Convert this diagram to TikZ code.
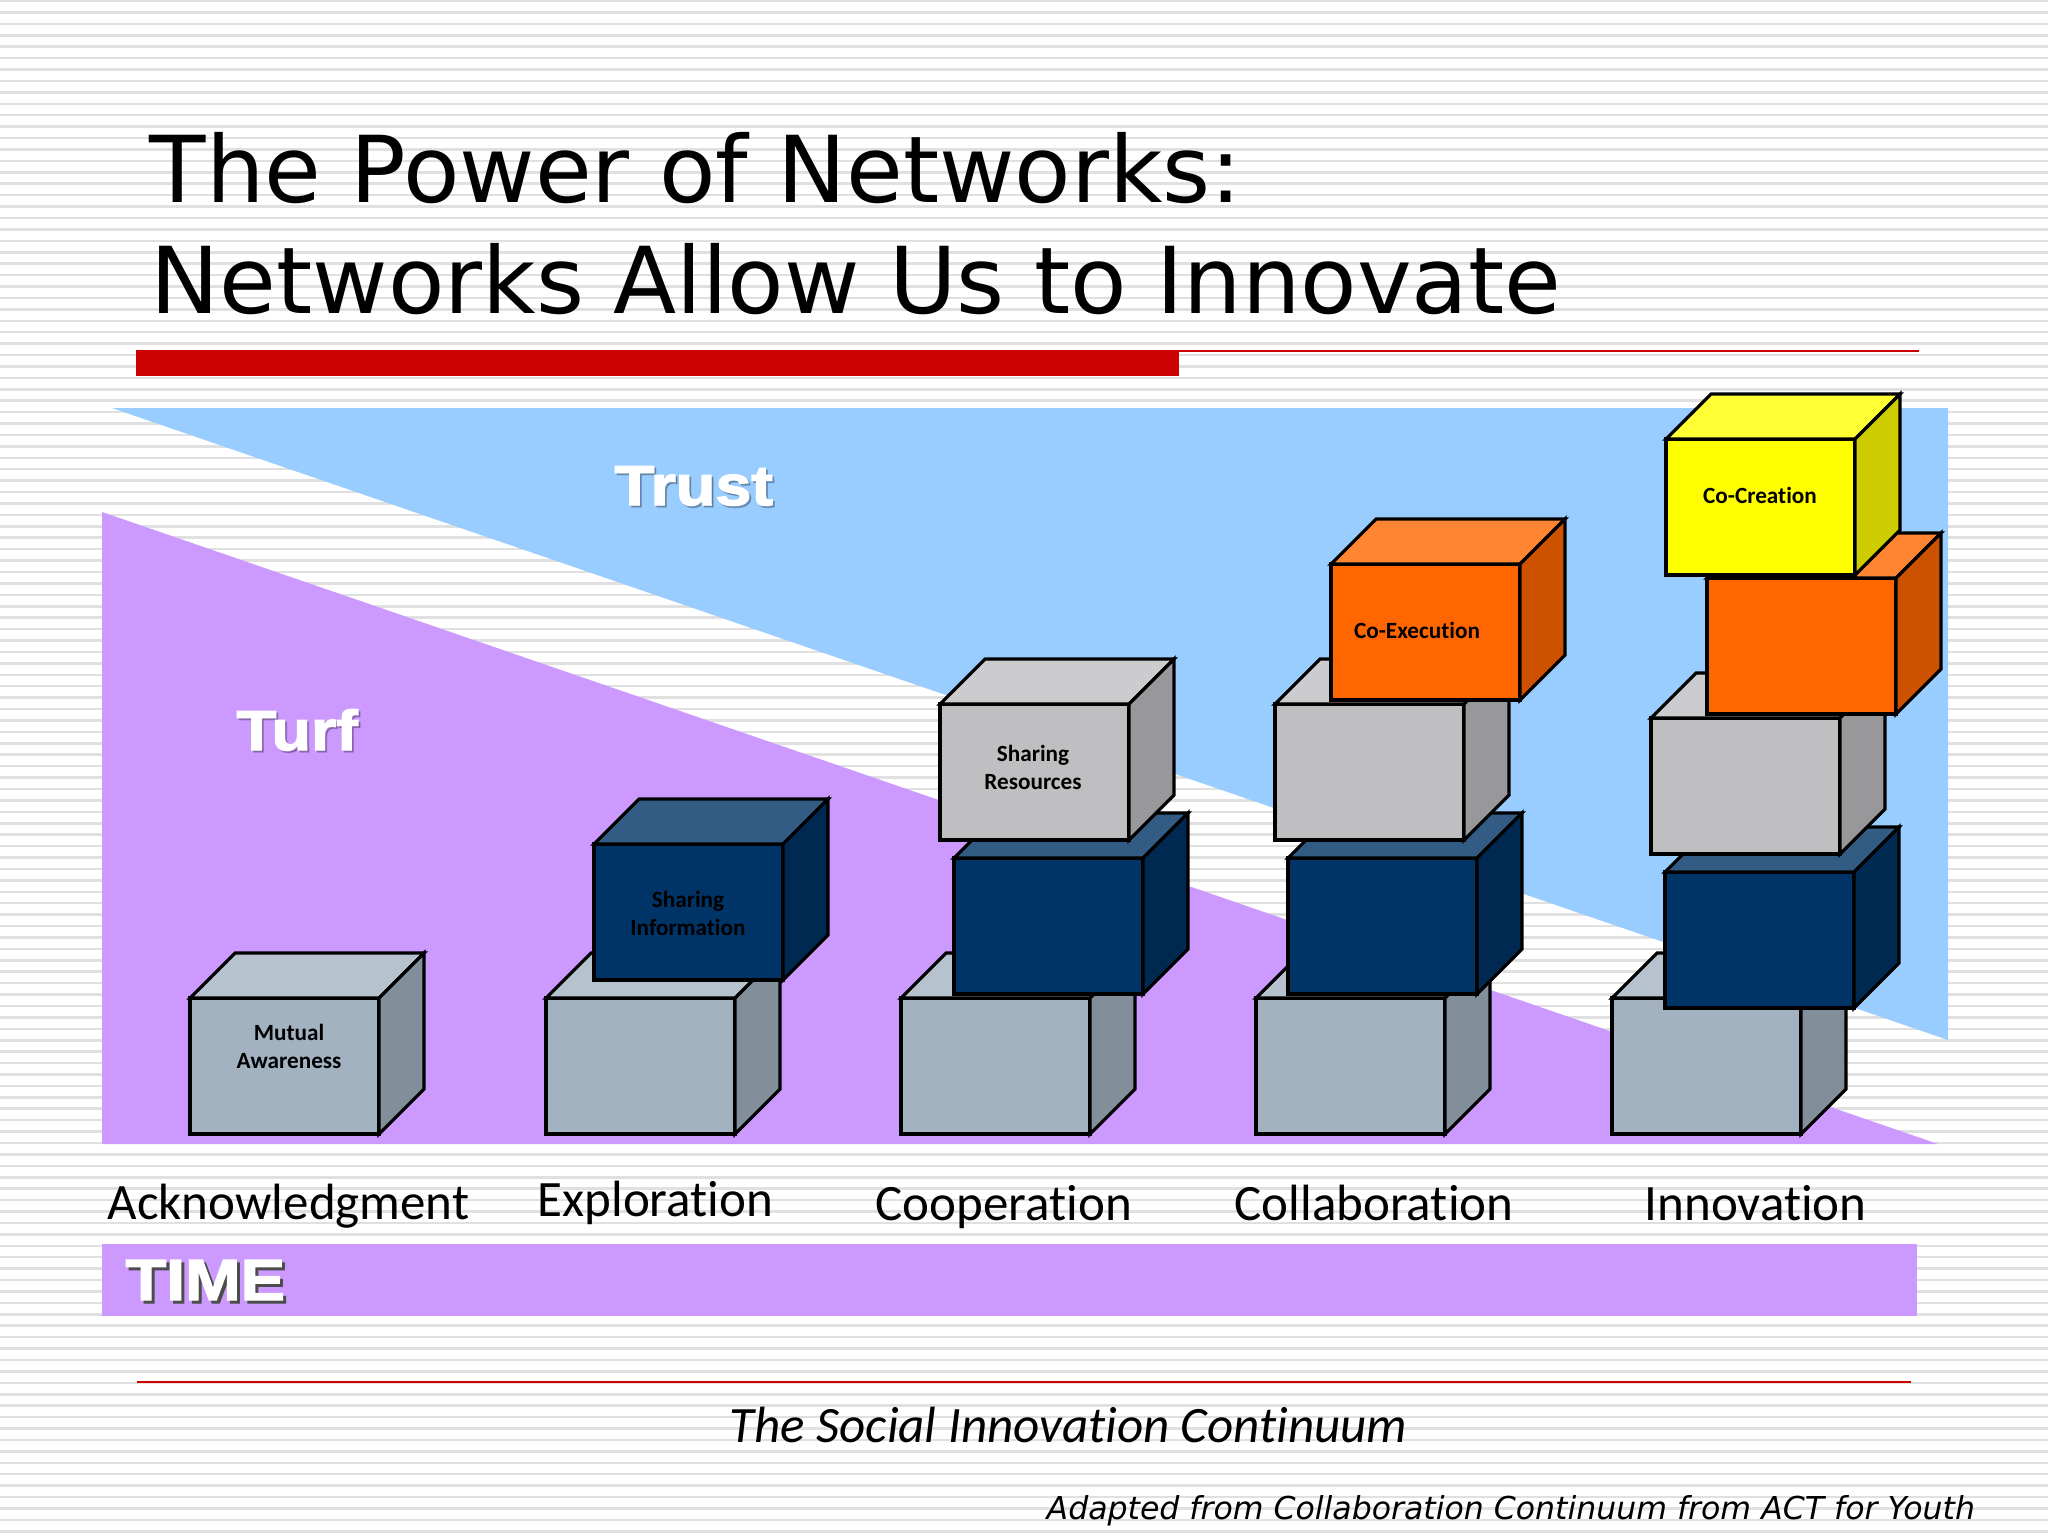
\documentclass[tikz,border=0pt]{standalone}
\usepackage{fontspec}
\setmainfont{DejaVu Sans}
\newfontfamily\carlitofont[Ligatures=CommonOff]{Carlito}
\newfontfamily\heavyfont[BoldFeatures={FakeBold=2.5,FakeStretch=1.15}]{Liberation Sans}
\definecolor{lilac}{HTML}{CC99FF}
\definecolor{skyblue}{HTML}{99CCFF}
\definecolor{slidered}{HTML}{CC0000}
\definecolor{steelF}{HTML}{A2B2C0}
\definecolor{steelT}{HTML}{B6C2CE}
\definecolor{steelS}{HTML}{828E99}
\definecolor{navyF}{HTML}{003366}
\definecolor{navyT}{HTML}{335C85}
\definecolor{navyS}{HTML}{002952}
\definecolor{greyF}{HTML}{BFBEC0}
\definecolor{greyT}{HTML}{CCCBCD}
\definecolor{greyS}{HTML}{98989A}
\definecolor{orangeF}{HTML}{FF6600}
\definecolor{orangeT}{HTML}{FF8533}
\definecolor{orangeS}{HTML}{CC5200}
\definecolor{yellowF}{HTML}{FFFF00}
\definecolor{yellowT}{HTML}{FFFF33}
\definecolor{yellowS}{HTML}{CCCC00}
\tikzset{
  stripe/.style={draw=black!12,line width=0.72pt},
  edge/.style={draw=black,line width=0.9pt,line join=miter},
  steelfront/.style={edge,fill=steelF},
  steeltop/.style={edge,fill=steelT},
  steelside/.style={edge,fill=steelS},
  navyfront/.style={edge,fill=navyF},
  navytop/.style={edge,fill=navyT},
  navyside/.style={edge,fill=navyS},
  greyfront/.style={edge,fill=greyF},
  greytop/.style={edge,fill=greyT},
  greyside/.style={edge,fill=greyS},
  orangefront/.style={edge,fill=orangeF},
  orangetop/.style={edge,fill=orangeT},
  orangeside/.style={edge,fill=orangeS},
  yellowfront/.style={edge,fill=yellowF},
  yellowtop/.style={edge,fill=yellowT},
  yellowside/.style={edge,fill=yellowS},
  titletext/.style={text=black,anchor=base west,inner sep=0pt,font=\fontsize{26.25}{30}\selectfont},
  stagetext/.style={text=black,anchor=base west,inner sep=0pt,font=\carlitofont\fontsize{14.5}{16}\selectfont},
  boxtext/.style={text=black,align=center,inner sep=0pt,font=\carlitofont\bfseries\fontsize{6.6}{8}\selectfont},
  bigtext/.style={text=white,anchor=base west,inner sep=0pt,font=\heavyfont\bfseries\fontsize{16}{20}\selectfont},
  timetext/.style={bigtext,font=\heavyfont\bfseries\fontsize{16.5}{20}\selectfont},
  softshadow/.style={bigtext,text=black,text opacity=0.22},
  darkshadow/.style={timetext,text=black!70}
}
\begin{document}
\begin{tikzpicture}[x=0.01cm,y=-0.01cm]
\useasboundingbox (0,0) rectangle (2048,1536);
\fill[white] (0,0) rectangle (2048,1536);

% background lines:
\foreach \ypos in {0,...,134} {
  \draw[stripe] (0,{1+11.42*\ypos}) -- (2048,{1+11.42*\ypos});
}

% wedges and bars:
\fill[skyblue] (112,408) -- (1948,408) -- (1948,1040) -- cycle;
\fill[lilac] (102,512) -- (102,1144) -- (1938,1144) -- cycle;
\fill[lilac] (102,1244) rectangle (1917,1316);
\fill[slidered] (136,350) rectangle (1179,376);
\draw[slidered,line width=0.6pt] (1179,351) -- (1919,351);
\draw[slidered,line width=0.6pt] (137,1382) -- (1911,1382);

% first column:
\path[steelfront] (190,998) rectangle (379,1134);
\path[steeltop] (190,998) -- (235,953) -- (424,953) -- (379,998) -- cycle;
\path[steelside] (379,998) -- (424,953) -- (424,1089) -- (379,1134) -- cycle;

% second column:
\path[steelfront] (546,998) rectangle (735,1134);
\path[steeltop] (546,998) -- (591,953) -- (780,953) -- (735,998) -- cycle;
\path[steelside] (735,998) -- (780,953) -- (780,1089) -- (735,1134) -- cycle;
\path[navyfront] (594,844) rectangle (783,980);
\path[navytop] (594,844) -- (639,799) -- (828,799) -- (783,844) -- cycle;
\path[navyside] (783,844) -- (828,799) -- (828,935) -- (783,980) -- cycle;

% third column:
\path[steelfront] (901,998) rectangle (1090,1134);
\path[steeltop] (901,998) -- (946,953) -- (1135,953) -- (1090,998) -- cycle;
\path[steelside] (1090,998) -- (1135,953) -- (1135,1089) -- (1090,1134) -- cycle;
\path[navyfront] (954,858) rectangle (1143,994);
\path[navytop] (954,858) -- (999,813) -- (1188,813) -- (1143,858) -- cycle;
\path[navyside] (1143,858) -- (1188,813) -- (1188,949) -- (1143,994) -- cycle;
\path[greyfront] (940,704) rectangle (1129,840);
\path[greytop] (940,704) -- (985,659) -- (1174,659) -- (1129,704) -- cycle;
\path[greyside] (1129,704) -- (1174,659) -- (1174,795) -- (1129,840) -- cycle;

% fourth column:
\path[steelfront] (1256,998) rectangle (1445,1134);
\path[steeltop] (1256,998) -- (1301,953) -- (1490,953) -- (1445,998) -- cycle;
\path[steelside] (1445,998) -- (1490,953) -- (1490,1089) -- (1445,1134) -- cycle;
\path[navyfront] (1288,858) rectangle (1477,994);
\path[navytop] (1288,858) -- (1333,813) -- (1522,813) -- (1477,858) -- cycle;
\path[navyside] (1477,858) -- (1522,813) -- (1522,949) -- (1477,994) -- cycle;
\path[greyfront] (1275,704) rectangle (1464,840);
\path[greytop] (1275,704) -- (1320,659) -- (1509,659) -- (1464,704) -- cycle;
\path[greyside] (1464,704) -- (1509,659) -- (1509,795) -- (1464,840) -- cycle;
\path[orangefront] (1331,564) rectangle (1520,700);
\path[orangetop] (1331,564) -- (1376,519) -- (1565,519) -- (1520,564) -- cycle;
\path[orangeside] (1520,564) -- (1565,519) -- (1565,655) -- (1520,700) -- cycle;

% fifth column:
\path[steelfront] (1612,998) rectangle (1801,1134);
\path[steeltop] (1612,998) -- (1657,953) -- (1846,953) -- (1801,998) -- cycle;
\path[steelside] (1801,998) -- (1846,953) -- (1846,1089) -- (1801,1134) -- cycle;
\path[navyfront] (1665,872) rectangle (1854,1008);
\path[navytop] (1665,872) -- (1710,827) -- (1899,827) -- (1854,872) -- cycle;
\path[navyside] (1854,872) -- (1899,827) -- (1899,963) -- (1854,1008) -- cycle;
\path[greyfront] (1651,718) rectangle (1840,854);
\path[greytop] (1651,718) -- (1696,673) -- (1885,673) -- (1840,718) -- cycle;
\path[greyside] (1840,718) -- (1885,673) -- (1885,809) -- (1840,854) -- cycle;
\path[orangefront] (1707,578) rectangle (1896,714);
\path[orangetop] (1707,578) -- (1752,533) -- (1941,533) -- (1896,578) -- cycle;
\path[orangeside] (1896,578) -- (1941,533) -- (1941,669) -- (1896,714) -- cycle;
\path[yellowfront] (1666,439) rectangle (1855,575);
\path[yellowtop] (1666,439) -- (1711,394) -- (1900,394) -- (1855,439) -- cycle;
\path[yellowside] (1855,439) -- (1900,394) -- (1900,530) -- (1855,575) -- cycle;

% box labels:
\path (289,1046) node[boxtext] (mutual) {Mutual\\Awareness};
\path (688,913) node[boxtext] (sharinginfo) {Sharing\\Information};
\path (1033,767) node[boxtext] (sharingres) {Sharing\\Resources};
\path (1417,630) node[boxtext] (coexec) {Co-Execution};
\path (1760,495) node[boxtext] (cocreate) {Co-Creation};

% slide texts:
\path (149,202) node[titletext] (titleone) {The Power of Networks:};
\path (150,313) node[titletext] (titletwo) {Networks Allow Us to Innovate};
\path (616,507) node[softshadow] (trustshadow) {Trust};
\path (614,505) node[bigtext] (trust) {Trust};
\path (238,752) node[softshadow] (turfshadow) {Turf};
\path (236,750) node[bigtext] (turf) {Turf};
\path (128,1303) node[darkshadow] (timeshadow) {TIME};
\path (125,1300) node[timetext] (time) {TIME};
\path (107,1219) node[stagetext] (acknow) {Acknowledgment};
\path (537,1216) node[stagetext] (explore) {Exploration};
\path (875,1220) node[stagetext] (cooperate) {Cooperation};
\path (1234,1220) node[stagetext] (collab) {Collaboration};
\path (1644,1220) node[stagetext] (innovate) {Innovation};
\path (729,1442) node[stagetext,font=\carlitofont\itshape\fontsize{14.5}{16}\selectfont] (continuum) {The Social Innovation Continuum};
\path (1046,1519) node[text=black,anchor=base west,inner sep=0pt,font=\itshape\fontsize{8.97}{12}\selectfont] (adapted) {Adapted from Collaboration Continuum from ACT for Youth};

\end{tikzpicture}
\end{document}
